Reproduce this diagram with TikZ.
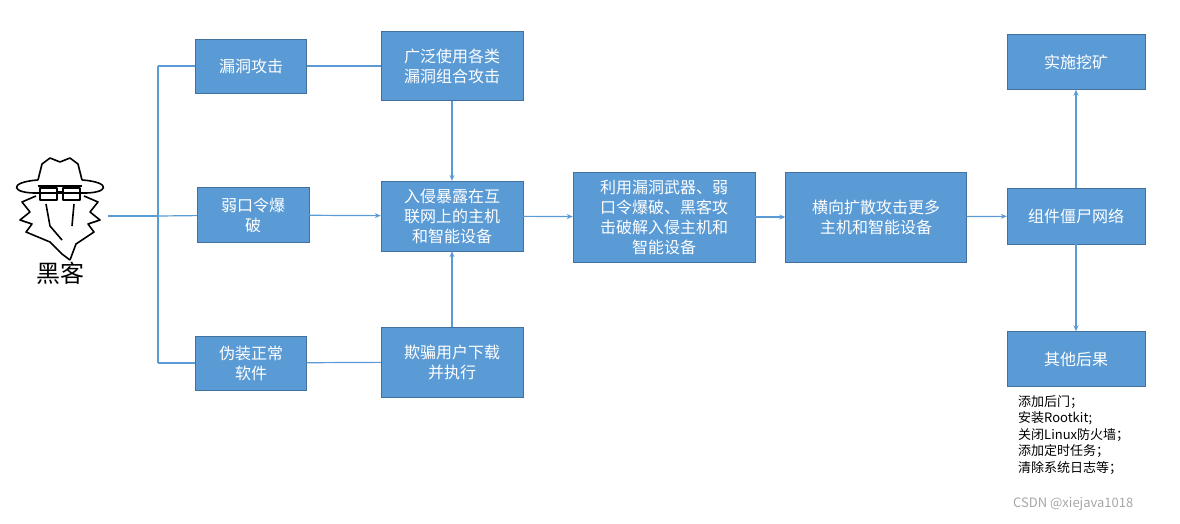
\documentclass[tikz,border=0pt]{standalone}
\usepackage{fontspec}
\setmainfont{Noto Sans CJK SC}
\usetikzlibrary{arrows.meta,positioning}
\definecolor{boxblue}{HTML}{5B9BD5}
\definecolor{boxedge}{HTML}{41719C}
\begin{document}
\begin{tikzpicture}[x=1pt,y=-1pt,
        block/.style={rectangle, draw=boxedge, fill=boxblue, text=white, align=center, inner sep=2pt, font=\fontsize{16}{20}\selectfont},
        link/.style={draw=boxblue, line width=1.2pt},
        arr/.style={link, -{Stealth[length=6pt,width=5pt]}}]
    \useasboundingbox (0,0) rectangle (1180,523);
    % hacker icon
    \begin{scope}[line width=1.6pt, line join=round]
        \draw (38,180) -- (42,164) -- (50,158) -- (60,162) -- (70,158) -- (78,164) -- (82,180);
        \draw (38,180) .. controls (8,182) and (10,194) .. (40,193) -- (80,193) .. controls (110,194) and (112,182) .. (82,180);
        \draw (38,186) -- (82,186);
        \draw (40,188) rectangle (57,200);
        \draw (63,188) rectangle (80,200);
        \draw (57,192) -- (63,192);
        \draw (36,196) -- (22,202) -- (30,212) -- (20,220) -- (32,224) -- (26,232) -- (50,242) -- (62,254) -- (70,260);
        \draw (84,196) -- (98,202) -- (90,212) -- (100,220) -- (88,224) -- (94,232) -- (76,244) -- (70,260);
        \draw (46,204) -- (50,226) -- (62,240);
        \draw (74,204) -- (72,226);
    \end{scope}
    \node[font=\fontsize{24}{26}\selectfont] (hacker) at (60,273) {黑客};
    \coordinate (src) at (108,216);
    \coordinate (fork) at (158,216);
    % boxes
    \node[block, minimum width=111pt, minimum height=54pt] (vuln) at (251,66) {漏洞攻击};
    \node[block, minimum width=142pt, minimum height=69pt] (combo) at (452,66) {广泛使用各类\\漏洞组合攻击};
    \node[block, minimum width=112pt, minimum height=55pt] (weak) at (253,215) {弱口令爆\\破};
    \node[block, minimum width=142pt, minimum height=70pt] (intrude) at (452,216) {入侵暴露在互\\联网上的主机\\和智能设备};
    \node[block, minimum width=111pt, minimum height=54pt] (fake) at (251,363) {伪装正常\\软件};
    \node[block, minimum width=142pt, minimum height=70pt] (trick) at (452,362) {欺骗用户下载\\并执行};
    \node[block, minimum width=182pt, minimum height=90pt] (exploit) at (664,217) {利用漏洞武器、弱\\口令爆破、黑客攻\\击破解入侵主机和\\智能设备};
    \node[block, minimum width=181pt, minimum height=90pt] (spread) at (876,217) {横向扩散攻击更多\\主机和智能设备};
    \node[block, minimum width=138pt, minimum height=56pt] (botnet) at (1076,216) {组件僵尸网络};
    \node[block, minimum width=138pt, minimum height=55pt] (mine) at (1076,62) {实施挖矿};
    \node[block, minimum width=138pt, minimum height=55pt] (other) at (1076,359) {其他后果};
    \node[align=left, anchor=north west, inner sep=0pt, font=\fontsize{13}{16.5}\selectfont] (effects) at (1018,395) {添加后门；\\安装Rootkit;\\关闭Linux防火墙；\\添加定时任务；\\清除系统日志等；};
    \node[text=gray!70, anchor=west, inner sep=0pt, font=\fontsize{13}{15}\selectfont] (mark) at (1013,504) {CSDN @xiejava1018};
    % connectors
    \draw[link] (src) -- (fork);
    \draw[link] (fork |- vuln) -- (fork |- fake);
    \draw[link] (fork |- vuln) -- (vuln);
    \draw[link] (fork) -- (weak);
    \draw[link] (fork |- fake) -- (fake);
    \draw[link] (vuln) -- (combo);
    \draw[link] (fake) -- (trick);
    \draw[arr] (weak) -- (intrude);
    \draw[arr] (combo) -- (intrude);
    \draw[arr] (trick) -- (intrude);
    \draw[arr] (intrude) -- (exploit);
    \draw[arr] (exploit) -- (spread);
    \draw[arr] (spread) -- (botnet);
    \draw[arr] (botnet) -- (mine);
    \draw[arr] (botnet) -- (other);
\end{tikzpicture}
\end{document}
